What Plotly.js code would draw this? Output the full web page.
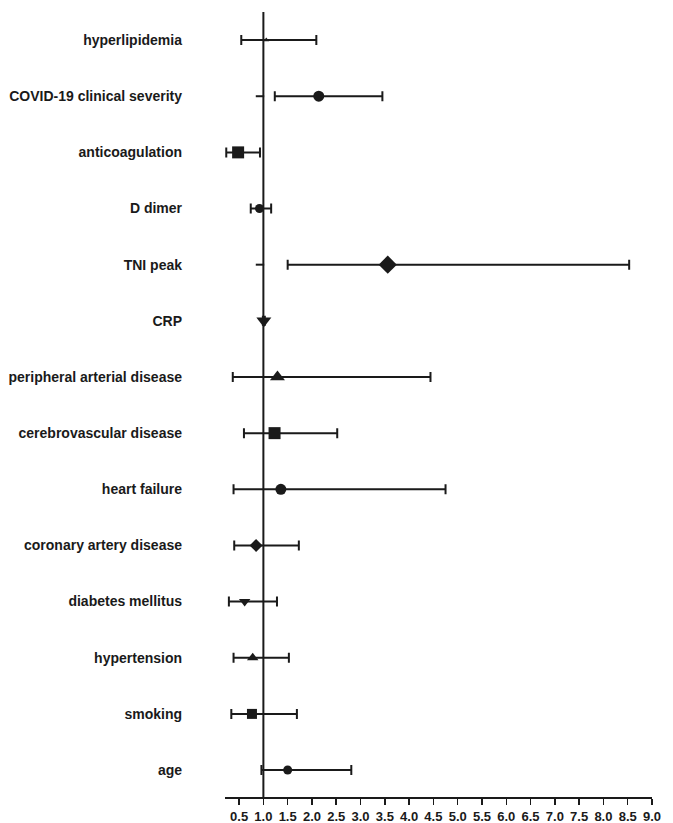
<!DOCTYPE html>
<html>
<head>
<meta charset="utf-8">
<script src="https://cdn.plot.ly/plotly-3.0.1.min.js"></script>
<style>html,body{margin:0;padding:0;background:#fff;}#chart{width:673px;height:823px;}</style>
</head>
<body>
<div id="chart"></div>
<script>
// Data (bottom to top)
const categories = ["age","smoking","hypertension","diabetes mellitus","coronary artery disease","heart failure","cerebrovascular disease","peripheral arterial disease","CRP","TNI peak","D dimer","anticoagulation","COVID-19 clinical severity","hyperlipidemia"];
const estimate = [1.50, 0.765, 0.78, 0.615, 0.85, 1.36, 1.23, 1.29, 1.01, 3.56, 0.92, 0.48, 2.14, 1.06];
const ciLow    = [0.96, 0.34, 0.386, 0.29, 0.40, 0.386, 0.60, 0.37, 0.99, 1.50, 0.74, 0.236, 1.235, 0.545];
const ciHigh   = [2.81, 1.69, 1.525, 1.28, 1.73, 4.75, 2.52, 4.44, 1.03, 8.53, 1.16, 0.93, 3.45, 2.09];
const stubCategories = ["COVID-19 clinical severity","TNI peak"];
const stubX = [0.93, 0.93];
const refLine = 1.0;
const xTicks = [0.5,1.0,1.5,2.0,2.5,3.0,3.5,4.0,4.5,5.0,5.5,6.0,6.5,7.0,7.5,8.0,8.5,9.0];

// Styles
const symbols = ["circle","square","triangle-up","triangle-down","diamond","circle","square","triangle-up","triangle-down","diamond","circle","square","circle","triangle-up"];
const sizes = [9,10,10,10,10,11,12,13,13,14,9,12,11,5];
const ink = "#1a1a1a";
const font = "'Liberation Sans Narrow','Arial Narrow','Liberation Sans',Arial,sans-serif";

const yIdx = categories.map((c,i)=>i);
const stubY = stubCategories.map(c=>categories.indexOf(c));

const traces = [
  {
    type: "scatter", mode: "markers",
    x: estimate, y: yIdx,
    error_x: {
      type: "data", symmetric: false,
      array: ciHigh.map((h,i)=>h-estimate[i]),
      arrayminus: ciLow.map((l,i)=>estimate[i]-l),
      color: ink, thickness: 2, width: 5
    },
    marker: {symbol: symbols, size: sizes, color: ink, opacity: 1, line: {width: 0}},
    hoverinfo: "x+y", showlegend: false
  },
  {
    type: "scatter", mode: "markers",
    x: stubX, y: stubY,
    marker: {symbol: "line-ew", size: 6, opacity: 1, line: {width: 2, color: ink}},
    showlegend: false, hoverinfo: "skip"
  }
];

const layout = {
  width: 673, height: 823,
  margin: {l: 225, r: 21, t: 12, b: 26, pad: 0},
  paper_bgcolor: "#fff", plot_bgcolor: "#fff",
  showlegend: false,
  xaxis: {
    range: [0.21, 9.0],
    tickvals: xTicks,
    ticktext: xTicks.map(v=>v.toFixed(1)),
    ticks: "outside", ticklen: 6, tickwidth: 1.5, tickcolor: ink,
    showline: true, linewidth: 2, linecolor: ink,
    showgrid: false, zeroline: false,
    tickfont: {family: font, size: 13, color: ink, weight: "bold"},
    fixedrange: true
  },
  yaxis: {
    range: [-0.48, 13.5],
    tickvals: yIdx,
    ticktext: categories,
    ticks: "", showline: false, showgrid: false, zeroline: false,
    ticklabelstandoff: 42,
    tickfont: {family: font, size: 14, color: ink, weight: "bold"},
    fixedrange: true
  },
  shapes: [
    {type: "line", xref: "x", yref: "paper", x0: refLine, x1: refLine, y0: 0, y1: 1,
     line: {color: ink, width: 2}}
  ]
};

Plotly.newPlot("chart", traces, layout, {displayModeBar: false, staticPlot: true});
</script>
</body>
</html>
